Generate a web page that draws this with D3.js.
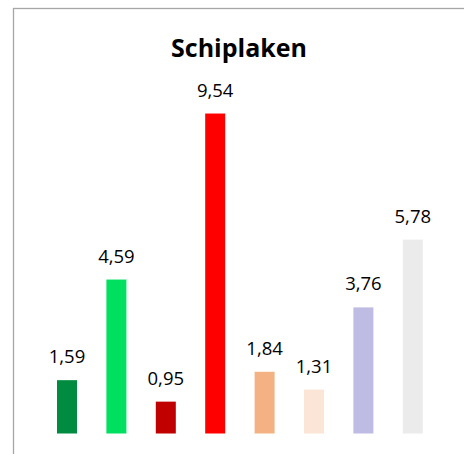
<!DOCTYPE html>
<html>
<head>
<meta charset="utf-8">
<script src="https://cdn.jsdelivr.net/npm/d3@7"></script>
<style>
  html, body { margin: 0; padding: 0; background: #fff; }
  svg { display: block; }
</style>
</head>
<body>
<script>
const title = "Schiplaken";
const categories = ["1", "2", "3", "4", "5", "6", "7", "8"];
const values = [1.59, 4.59, 0.95, 9.54, 1.84, 1.31, 3.76, 5.78];
const colors = ["#008c40", "#00e060", "#c00000", "#ff0000", "#f4b183", "#fbe5d6", "#bfbce4", "#ebebeb"];
const yDomain = [0, 10];

const W = 464, H = 454;
const fmt = v => d3.format(".2f")(v).replace(".", ",");

const svg = d3.select("body").append("svg").attr("width", W).attr("height", H);

svg.append("rect")
  .attr("x", 13.5).attr("y", 8.5)
  .attr("width", 600).attr("height", 600)
  .attr("fill", "#fff")
  .attr("stroke", "#a6a6a6")
  .attr("stroke-width", 1.3);

const x = d3.scaleBand().domain(categories).range([42.3, 437.5])
  .paddingInner(0.595).paddingOuter(0.2975);
const y = d3.scaleLinear().domain(yDomain).range([433.5, 98.1]);

svg.append("text")
  .attr("x", 239).attr("y", 57.3)
  .attr("text-anchor", "middle")
  .attr("font-family", "'Open Sans', sans-serif")
  .attr("font-weight", "bold")
  .attr("font-size", 25)
  .attr("fill", "#000")
  .text(title);

const g = svg.append("g");
g.selectAll("rect.bar").data(values).join("rect")
  .attr("class", "bar")
  .attr("x", (d, i) => x(categories[i]))
  .attr("width", x.bandwidth())
  .attr("y", d => y(d))
  .attr("height", d => y(0) - y(d))
  .attr("fill", (d, i) => colors[i]);

g.selectAll("text.lbl").data(values).join("text")
  .attr("class", "lbl")
  .attr("x", (d, i) => x(categories[i]) + x.bandwidth() / 2)
  .attr("y", d => y(d) - 17)
  .attr("text-anchor", "middle")
  .attr("font-family", "'Open Sans', sans-serif")
  .attr("font-size", 18.5)
  .attr("fill", "#000")
  .text(d => fmt(d));
</script>
</body>
</html>
